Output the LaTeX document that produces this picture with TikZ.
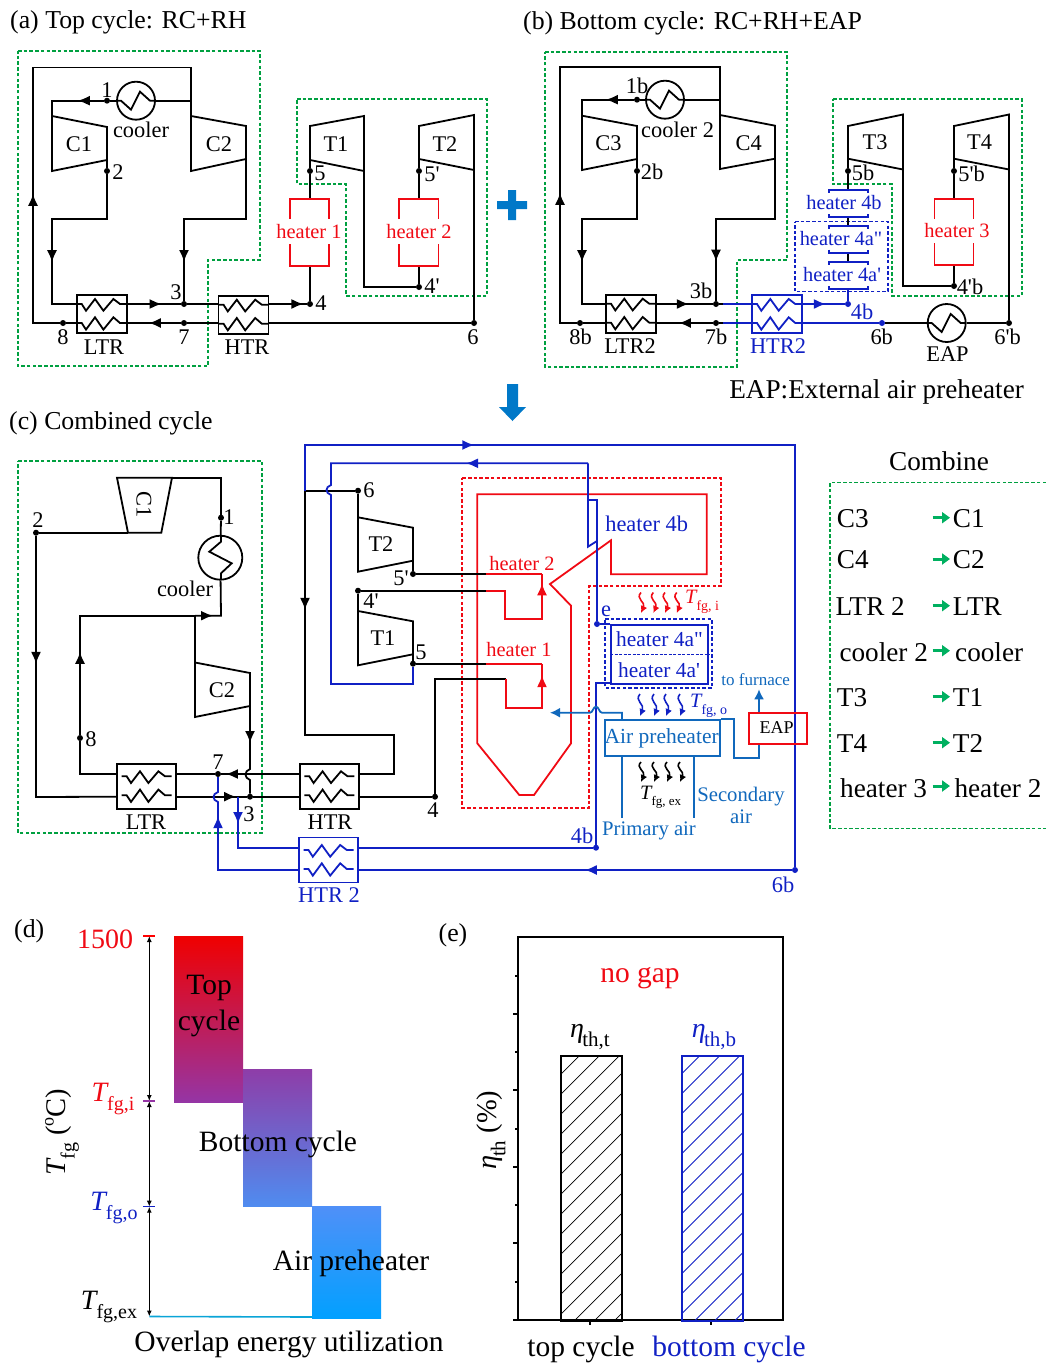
\documentclass[tikz,border=0pt]{standalone}
\usepackage{fontspec}
\setmainfont{Liberation Serif}[Ligatures=TeXOff]
\usetikzlibrary{arrows.meta, decorations.markings}

\definecolor{zonegreen}{HTML}{00A040}
\definecolor{combgreen}{HTML}{00B060}
\definecolor{heatred}{HTML}{F00A14}
\definecolor{loopblue}{HTML}{1020C4}
\definecolor{airblue}{HTML}{1068BC}
\definecolor{signblue}{HTML}{0078C8}
\definecolor{topa}{HTML}{F00000}
\definecolor{topb}{HTML}{C4055A}
\definecolor{topc}{HTML}{9535A5}
\definecolor{bota}{HTML}{8E3DA8}
\definecolor{botb}{HTML}{4F8CF0}
\definecolor{aira}{HTML}{4F90F8}
\definecolor{airb}{HTML}{02A0FF}

\newcommand{\symsub}[3]{\textit{#1}\kern-.06em\raisebox{-.32em}{\fontsize{#3}{#3}\selectfont #2}}

\begin{document}
\begin{tikzpicture}[
  x=1pt, y=-1pt,
  pipe/.style={line width=1.8pt, color=black, line join=miter},
  bluepipe/.style={pipe, color=loopblue},
  redpipe/.style={pipe, color=heatred},
  airpipe/.style={pipe, color=airblue},
  tipat/.style={postaction={decorate, decoration={markings,
      mark=at position #1 with {\arrow{Latex[length=12pt,width=10pt]}}}}},
  zone/.style={draw=#1, line width=1.7pt, dash pattern=on 3.5pt off 2.2pt},
  dotn/.style={circle, fill=#1, inner sep=0, minimum size=6pt},
  dotn/.default=black,
  lab/.style={font=\fontsize{22.4}{22.4}\selectfont, inner sep=0},
  labs/.style={font=\fontsize{20.4}{20.4}\selectfont, inner sep=0},
  labl/.style={font=\fontsize{25.8}{26}\selectfont, inner sep=0, yshift=-2pt},
  labt/.style={font=\fontsize{27.2}{27.2}\selectfont, inner sep=0, yshift=-1pt},
  labx/.style={font=\fontsize{29.5}{29.5}\selectfont, inner sep=0, yshift=-3pt},
  hxbox/.style 2 args={draw=#2, line width=1.8pt, inner sep=0,
    minimum width=#1*50pt, minimum height=#1*38pt,
    path picture={\draw[#2, line width=1.8pt, shift={(path picture bounding box.center)}, scale=#1]
      (-25,-10) -- (-20,-10) -- (-15.7,-3.3) -- (-6.7,-15) -- (1.7,-3.3) -- (11.7,-15) -- (18.3,-10) -- (25,-10)
      (-25,9) -- (-20,9) -- (-15.7,15.6) -- (-6.7,3.3) -- (1.7,15.6) -- (11.7,3.3) -- (18.3,9) -- (25,9);}},
  coolerh/.style={draw, circle, line width=1.8pt, inner sep=0, minimum size=38pt,
    path picture={\draw[line width=1.8pt, shift={(path picture bounding box.center)}]
      (-19,0) -- (-15,0) -- (-5,9) -- (4,-9) -- (14,0) -- (19,0);}},
  coolerv/.style={draw, circle, line width=1.8pt, inner sep=0, minimum size=44pt,
    path picture={\draw[line width=1.8pt, shift={(path picture bounding box.center)}]
      (0.7,-22) -- (0.7,-16) -- (-11,-6) -- (11.4,5.6) -- (0.7,15.6) -- (0.7,22);}},
  barbox/.style={draw=#1, line width=1.8pt, inner sep=0, anchor=north west,
    minimum width=61pt, minimum height=265pt,
    path picture={\foreach \yy in {0,...,15}
      \draw[#1, line width=.8pt, shift={(path picture bounding box.center)}]
        (-30.5,-114.5+20*\yy) -- (39.5,-184.5+20*\yy);}},
  combarrow/.style={color=combgreen, line width=3pt, -{Triangle[length=8pt,width=11pt]}},
  wavytip/.style={line width=1.6pt, -{Latex[length=7pt,width=7pt]}},
  spanarrow/.style={line width=1.3pt, {Latex[length=6pt,width=5pt]}-{Latex[length=6pt,width=5pt]}}
]
  \useasboundingbox (0,0) rectangle (1046,1363);

  % (a) top cycle
  \node[labl, anchor=west] (tita) at (10,20) {(a) Top cycle: RC+RH};
  \draw[zone=zonegreen] (18,51) -- (260,51) -- (260,260) -- (208,260) -- (208,366) -- (18,366) -- cycle;
  \draw[zone=zonegreen] (297,99) -- (487,99) -- (487,296) -- (346,296) -- (346,184) -- (297,184) -- cycle;

  \draw[pipe] (52,116) coordinate (c1a) -- (107,127) -- (107,160) coordinate (c1b) -- (52,171) -- cycle;
  \draw[pipe] (191,116) coordinate (c2a) -- (246,126) -- (246,159) coordinate (c2b) -- (191,171) -- cycle;
  \draw[pipe] (310,126) coordinate (t1a) -- (364,116) -- (364,171) coordinate (t1b) -- (310,160) coordinate (t1c) -- cycle;
  \draw[pipe] (419,126) coordinate (t2a) -- (474,115) -- (474,170) coordinate (t2b) -- (419,159) coordinate (t2c) -- cycle;
  \node[lab] (lc1) at (79,144) {C1};
  \node[lab] (lc2) at (219,144) {C2};
  \node[lab] (lt1) at (336,144) {T1};
  \node[lab] (lt2) at (445,144) {T2};

  \node[coolerh] (coola) at (136,100.7) {};
  \node[hxbox={1}{black}] (ltra) at (101.7,314) {};
  \node[hxbox={1}{black}] (htra) at (243.5,314.7) {};
  \node[dotn] (a1) at (107,100.7) {};
  \node[dotn] (a2) at (107,171) {};
  \node[dotn] (a3) at (184,304) {};
  \node[dotn] (a4) at (310,304) {};
  \node[dotn] (a5) at (310,171) {};
  \node[dotn] (a4p) at (419,287) {};
  \node[dotn] (a5p) at (419,171) {};
  \node[dotn] (a6) at (474,323) {};
  \node[dotn] (a7) at (184,323) {};
  \node[dotn] (a8) at (63,323) {};
  \coordinate (ah1a) at (290,199);
  \coordinate (ah1b) at (310,199);
  \coordinate (ah1c) at (310,266);
  \coordinate (ah2b) at (419,199);
  \coordinate (ah2c) at (419,266);

  \draw[pipe] (c2a) -- (191,100.7) -- (coola);
  \draw[pipe] (coola) -- (a1);
  \draw[pipe, tipat=26pt] (a1) -- (52,100.7) -- (c1a);
  \draw[pipe, tipat=156pt] (a8) -- (33,323) -- (33,67.5) -- (191,67.5) -- (c2a);
  \draw[pipe] (a8) -- (ltra.west |- a8);
  \draw[pipe, tipat=143pt] (a2) -- (107,219) -- (52,219) -- (52,304) -- (ltra.west |- a3);
  \draw[pipe] (c1b) -- (a2);
  \draw[pipe, tipat=34pt] (ltra.east |- a3) -- (a3);
  \draw[pipe, tipat=165pt] (c2b) -- (246,219) -- (184,219) -- (a3);
  \draw[pipe] (a3) -- (htra.west |- a3);
  \draw[pipe, tipat=34pt] (htra.east |- a3) -- (a4);
  \draw[pipe] (a4) -- (ah1c);
  \draw[pipe] (t1c) -- (a5) -- (ah1b);
  \draw[pipe] (t1b) -- (364,287) -- (a4p);
  \draw[pipe] (a4p) -- (ah2c);
  \draw[pipe] (t2c) -- (a5p) -- (ah2b);
  \draw[pipe] (t2b) -- (a6);
  \draw[pipe] (a6) -- (htra.east |- a6);
  \draw[pipe] (htra.west |- a6) -- (a7);
  \draw[pipe, tipat=32pt] (a7) -- (ltra.east |- a7);

  \draw[redpipe] (290,219) -- (ah1a) -- (329,199) -- (329,219);
  \draw[redpipe] (290,244) -- (290,266) -- (329,266) -- (329,244);
  \draw[redpipe] (399,219) -- (399,199) -- (438.5,199) -- (438.5,219);
  \draw[redpipe] (399,244) -- (399,266) -- (438.5,266) -- (438.5,244);
  \node[labs, text=heatred] (lh1) at (309,232) {heater 1};
  \node[labs, text=heatred] (lh2) at (419,232) {heater 2};
  \node[lab] (n1) at (107,90) {1};
  \node[lab] (n2) at (118,172) {2};
  \node[lab] (n3) at (176,292) {3};
  \node[lab] (n4) at (321,303) {4};
  \node[lab] (n5) at (320,173) {5};
  \node[lab] (n4p) at (432,286) {4'};
  \node[lab] (n5p) at (432,174) {5'};
  \node[lab] (n6) at (473,337) {6};
  \node[lab] (n7) at (184,337) {7};
  \node[lab] (n8) at (63,337) {8};
  \node[lab] (lcool) at (141,130) {cooler};
  \node[lab] (lltr) at (104,347) {LTR};
  \node[lab] (lhtr) at (247,347) {HTR};

  % plus and down sign
  \fill[signblue] (497,201) rectangle (527,209) (508,190) rectangle (516,220);
  \fill[signblue] (507,384) -- (518,384) -- (518,407) -- (526,407) -- (512.5,421) -- (499,407) -- (507,407) -- cycle;

  % (b) bottom cycle
  \node[labl, anchor=west] (titb) at (523,21) {(b) Bottom cycle: RC+RH+EAP};
  \draw[zone=zonegreen] (545,52) -- (787,52) -- (787,260) -- (737,260) -- (737,366.7) -- (545,366.7) -- cycle;
  \draw[zone=zonegreen] (833,99) -- (1022,99) -- (1022,295.7) -- (892,295.7) -- (892,184.3) -- (833,184.3) -- cycle;
  \draw[zone=loopblue, line width=1.4pt] (795,221.7) -- (888,221.7) -- (888,291.7) -- (795,291.7) -- cycle;

  \draw[pipe] (582,115.7) coordinate (c3a) -- (637,126) -- (637,159) coordinate (c3b) -- (582,170) -- cycle;
  \draw[pipe] (720,115) coordinate (c4a) -- (775,125.7) -- (775,158.7) coordinate (c4b) -- (720,169) -- cycle;
  \draw[pipe] (848,126) coordinate (t3a) -- (903,114.5) -- (903,169.5) coordinate (t3b) -- (848,158.7) coordinate (t3c) -- cycle;
  \draw[pipe] (954,126) coordinate (t4a) -- (1009,114.5) -- (1009,169.5) coordinate (t4b) -- (954,158.7) coordinate (t4c) -- cycle;
  \node[lab] (lc3) at (608.5,143) {C3};
  \node[lab] (lc4) at (748.7,143) {C4};
  \node[lab] (lt3) at (875,142) {T3};
  \node[lab] (lt4) at (979.6,142) {T4};

  \node[coolerh] (coolb) at (665,99.7) {};
  \node[coolerh] (eapb) at (946.7,323) {};
  \node[hxbox={1}{black}] (ltrb) at (631,313.7) {};
  \node[hxbox={1}{loopblue}] (htrb) at (777,314) {};
  \node[dotn] (b1) at (637,99.7) {};
  \node[dotn] (b2) at (637,171) {};
  \node[dotn] (b3) at (716,304) {};
  \node[dotn=loopblue] (b4) at (848,304) {};
  \node[dotn] (b5) at (848,171) {};
  \node[dotn] (b4p) at (954,286) {};
  \node[dotn] (b5p) at (954,171) {};
  \node[dotn] (b6p) at (1009,323) {};
  \node[dotn=loopblue] (b6) at (882,323) {};
  \node[dotn] (b7) at (716,323) {};
  \node[dotn] (b8) at (580,323) {};

  \draw[pipe] (c4a) -- (720,99.7) -- (coolb);
  \draw[pipe] (coolb) -- (b1);
  \draw[pipe, tipat=28pt] (b1) -- (582,99.7) -- (c3a);
  \draw[pipe, tipat=147pt] (b8) -- (560,323) -- (560,67) -- (720,67) -- (c4a);
  \draw[pipe] (b8) -- (ltrb.west |- b8);
  \draw[pipe] (c3b) -- (b2);
  \draw[pipe, tipat=143pt] (b2) -- (637,218.7) -- (582,218.7) -- (582,304) -- (ltrb.west |- b3);
  \draw[pipe, tipat=32pt] (ltrb.east |- b3) -- (b3);
  \draw[pipe, tipat=162pt] (c4b) -- (775,218.7) -- (716,218.7) -- (b3);
  \draw[pipe] (b3) -- (723,304);
  \draw[bluepipe] (723,304) -- (htrb.west |- b3);
  \draw[bluepipe, tipat=23pt] (htrb.east |- b3) -- (b4);
  \draw[pipe] (t3c) -- (b5) -- (848,190);
  \draw[pipe] (848,217) -- (848,226);
  \draw[pipe] (848,252.7) -- (848,261.7);
  \draw[bluepipe] (848,289) -- (b4);
  \draw[pipe] (t3b) -- (903,286) -- (b4p);
  \draw[pipe] (b4p) -- (954,265);
  \draw[pipe] (t4c) -- (b5p) -- (954,199);
  \draw[pipe] (t4b) -- (b6p);
  \draw[pipe] (b6p) -- (eapb);
  \draw[pipe] (eapb) -- (b6);
  \draw[bluepipe] (b6) -- (htrb.east |- b6);
  \draw[bluepipe] (htrb.west |- b6) -- (723,323);
  \draw[pipe] (723,323) -- (b7);
  \draw[pipe, tipat=34pt] (b7) -- (ltrb.east |- b7);

  \draw[bluepipe] (829,192.7) -- (829,190) -- (868,190) -- (868,192.7);
  \draw[bluepipe] (829,214) -- (829,217) -- (868,217) -- (868,214);
  \draw[bluepipe] (829,229) -- (829,226) -- (868,226) -- (868,229);
  \draw[bluepipe] (829,249.7) -- (829,252.7) -- (868,252.7) -- (868,249.7);
  \draw[bluepipe] (829,264.7) -- (829,261.7) -- (868,261.7) -- (868,264.7);
  \draw[bluepipe] (829,286) -- (829,289) -- (868,289) -- (868,286);
  \draw[redpipe] (934.4,219) -- (934.4,199) -- (973.4,199) -- (973.4,219);
  \draw[redpipe] (934.4,243) -- (934.4,265) -- (973.4,265) -- (973.4,243);
  \node[labs, text=loopblue] (lh4b) at (844,203) {heater 4b};
  \node[labs, text=loopblue] (lh4an) at (841,239) {heater 4a"};
  \node[labs, text=loopblue] (lh4am) at (842,275) {heater 4a'};
  \node[labs, text=heatred] (lh3) at (957,231) {heater 3};
  \node[lab] (m1) at (637,86) {1b};
  \node[lab] (m2) at (652,172) {2b};
  \node[lab] (m3) at (701,291) {3b};
  \node[lab, text=loopblue] (m4) at (862,312) {4b};
  \node[lab] (m5) at (863,173) {5b};
  \node[lab] (m4p) at (970,287) {4'b};
  \node[lab] (m5p) at (971.7,174) {5'b};
  \node[lab] (m6p) at (1007.6,337) {6'b};
  \node[lab] (m6) at (881.7,337) {6b};
  \node[lab] (m7) at (716,337) {7b};
  \node[lab] (m8) at (580.5,337) {8b};
  \node[lab] (lcoolb) at (677.6,130) {cooler 2};
  \node[lab] (lltrb) at (630,346) {LTR2};
  \node[lab, text=loopblue] (lhtrb) at (778,346) {HTR2};
  \node[lab] (leap) at (947.5,354) {EAP};
  \node[labt, yshift=-1pt] (leapnote) at (876.6,390) {EAP:External air preheater};

  % (c) combined cycle
  \node[labl, anchor=west] (titc) at (9,421) {(c) Combined cycle};
  \draw[zone=zonegreen] (18,460.7) -- (262,460.7) -- (262,833) -- (18,833) -- cycle;
  \draw[zone=heatred] (462.3,478.3) -- (720.7,478.3) -- (720.7,585.7) -- (589,585.7) -- (589,807.7) -- (462.3,807.7) -- cycle;
  \draw[redpipe] (477.3,494.3) -- (706.7,494.3) -- (706.7,574.3) -- (611,574.3) -- (611,540.3) -- (550,584) -- (571,605.7) -- (571,743.3) -- (534,795) -- (519.3,795) -- (477.3,743.3) -- cycle;

  \draw[pipe] (117,477.7) coordinate (k1a) -- (172,477.7) coordinate (k1b) -- (161.3,532.7) -- (128,532.7) coordinate (k1c) -- cycle;
  \draw[pipe] (195,662.5) coordinate (k2a) -- (250,673) -- (250,706) coordinate (k2b) -- (195,717) -- cycle;
  \draw[pipe] (358,517.3) coordinate (k3a) -- (413,527.7) -- (413,560.7) coordinate (k3b) -- (358,571.7) -- cycle;
  \draw[pipe] (358,611) coordinate (k4a) -- (413,621.3) -- (413,654.3) coordinate (k4b) -- (358,665.3) -- cycle;
  \node[lab, rotate=-90] (rc1) at (144,505) {C1};
  \node[lab] (rc2) at (222,690) {C2};
  \node[lab] (rt2) at (381,544) {T2};
  \node[lab] (rt1) at (383,638) {T1};

  \node[coolerv] (coolc) at (220.3,557.7) {};
  \node[hxbox={1.18}{black}] (ltrc) at (146.7,786.3) {};
  \node[hxbox={1.18}{black}] (htrc) at (329.3,786.3) {};
  \node[hxbox={1.18}{loopblue}] (htrd) at (328.5,860) {};
  \node[dotn] (c1) at (221,517.7) {};
  \node[dotn] (c2) at (36,532.7) {};
  \node[dotn] (c3) at (250,796.7) {};
  \node[dotn] (c4) at (435,796.7) {};
  \node[dotn] (c5) at (413,663.7) {};
  \node[dotn] (c5p) at (413,574) {};
  \node[dotn] (c4p) at (358,590.7) {};
  \node[dotn] (c6) at (358,490.7) {};
  \node[dotn] (c7) at (218,774) {};
  \node[dotn] (c8) at (80,738) {};
  \node[dotn=loopblue] (c4b) at (596,847.7) {};
  \node[dotn=loopblue] (c6b) at (795,870) {};
  \node[dotn=loopblue] (ce) at (597,624) {};

  \draw[pipe] (k1b) -- (221,477.7) -- (c1);
  \draw[pipe] (c1) -- (coolc);
  \draw[pipe] (k1c) -- (c2);
  \draw[pipe, tipat=128pt] (c2) -- (36,797) -- (ltrc.west |- c3);
  \draw[pipe] (ltrc.west |- c7) -- (80,774) -- (c8);
  \draw[pipe, tipat=83pt] (c8) -- (80,615.7) -- (195,615.7);
  \draw[pipe, tipat=18pt] (195,615.7) -- (221,615.7) -- (coolc);
  \draw[pipe] (195,615.7) -- (k2a);
  \draw[pipe, tipat=37pt] (k2b) -- (250,769) .. controls (244,771) and (244,778) .. (250,780) -- (c3);
  \draw[pipe, tipat=59pt] (ltrc.east |- c3) -- (c3);
  \draw[pipe] (c3) -- (htrc.west |- c3);
  \draw[pipe, tipat=73pt] (htrc.west |- c7) -- (c7);
  \draw[pipe] (c7) -- (ltrc.east |- c7);
  \draw[pipe, tipat=169pt] (c6) -- (305,490.7) -- (305,735) -- (394,735) -- (394,774) -- (htrc.east |- c7);
  \draw[pipe] (c6) -- (k3a);
  \draw[pipe] (k3b) -- (c5p);
  \draw[pipe] (c5p) -- (486,574);
  \draw[pipe] (c4p) -- (486,590.7);
  \draw[pipe] (c4p) -- (358,620);
  \draw[pipe] (k4b) -- (c5);
  \draw[pipe] (c5) -- (486,663.7);
  \draw[pipe] (htrc.east |- c3) -- (c4);
  \draw[pipe] (c4) -- (435,679.3) -- (506,679.3);

  \draw[redpipe] (486,574) -- (542,574);
  \draw[redpipe, tipat=120pt] (486,590.7) -- (505,590.7) -- (505,619) -- (542,619) -- (542,574);
  \draw[redpipe] (486,663.7) -- (542,663.7);
  \draw[redpipe, tipat=97pt] (506,679.3) -- (506,707.7) -- (542,707.7) -- (542,663.7);

  \draw[bluepipe, tipat=215pt] (305,490.7) -- (305,445) -- (795,445) -- (c6b);
  \draw[bluepipe, tipat=207pt] (c6b) -- (htrd.east |- c6b);
  \draw[bluepipe, tipat=134pt] (htrd.west |- c6b) -- (218,870) -- (218,802) .. controls (212,800) and (212,794) .. (218,792) -- (c7);
  \draw[bluepipe, tipat=27pt] (238,797) -- (238,847.7) -- (htrd.west |- c4b);
  \draw[bluepipe] (htrd.east |- c4b) -- (c4b);
  \draw[bluepipe, tipat=122pt] (588,463.3) -- (331,463.3) -- (331,485) .. controls (325,487) and (325,493) .. (331,495) -- (331,684) -- (413,684) -- (c5);
  \draw[bluepipe] (ce) -- (597,541) -- (588,546.7) -- (588,463.3);
  \draw[bluepipe] (588,500) -- (597,500) -- (597,541);
  \draw[bluepipe] (c4b) -- (596,682.7) -- (610,682.7);
  \draw[bluepipe] (ce) -- (610,624);

  \node[draw=loopblue, line width=1.8pt, inner sep=0, anchor=north west, minimum width=97.3pt, minimum height=58.7pt] (h4abox) at (610,624) {};
  \draw[loopblue, line width=1.4pt, dash pattern=on 3pt off 1.5pt] (h4abox.west) -- (h4abox.east);
  \draw[zone=loopblue] (605,618.7) -- (712,618.7) -- (712,688) -- (605,688) -- cycle;
  \node[font=\fontsize{21.4}{21.4}\selectfont, inner sep=0, text=loopblue] (rh4an) at (659.5,639) {heater 4a"};
  \node[font=\fontsize{21.4}{21.4}\selectfont, inner sep=0, text=loopblue] (rh4am) at (659,670.5) {heater 4a'};
  \node[lab, text=loopblue] (rh4b) at (646.7,524) {heater 4b};
  \node[labs, text=heatred] (rh2) at (522,564) {heater 2};
  \node[labs, text=heatred] (rh1) at (519,650) {heater 1};

  \foreach \xx in {641,653.3,665,676.7}
    \draw[wavytip, heatred] (\xx,592.5) .. controls (\xx-6,599) and (\xx+5,602) .. (\xx,613);
  \foreach \xx in {640,654,666,680}
    \draw[wavytip, loopblue] (\xx,694) .. controls (\xx-6,701) and (\xx+5,704) .. (\xx,716);
  \foreach \xx in {641,654,667,680}
    \draw[wavytip, black] (\xx,762) .. controls (\xx-6,768) and (\xx+5,771) .. (\xx,782);
  \node[labs, text=heatred, anchor=west] (rtfi) at (685,602) {\symsub{T}{fg, i}{14}};
  \node[labs, text=loopblue, anchor=west] (rtfo) at (690,706) {\symsub{T}{fg, o}{14}};
  \node[labs, anchor=west] (rtfe) at (640,797) {\symsub{T}{fg, ex}{13}};

  \node[draw=airblue, line width=1.8pt, inner sep=0, anchor=north west, minimum width=115.3pt, minimum height=36pt] (aph) at (604,719.3) {};
  \node[font=\fontsize{21.5}{21.5}\selectfont, inner sep=0, text=airblue] (laph) at (661.7,738) {Air preheater};
  \node[draw=heatred, line width=1.8pt, inner sep=0, anchor=north west, minimum width=58pt, minimum height=31pt] (eapc) at (747.7,712.3) {};
  \node[font=\fontsize{18}{18}\selectfont, inner sep=0] (leapc) at (776.7,728) {EAP};
  \coordinate (furn) at (759,689.3);
  \coordinate (airleft) at (550,712.7);
  \coordinate (prim) at (622,817.7);
  \coordinate (secd) at (694,817.7);
  \draw[airpipe, -{Latex[length=10pt,width=10pt]}] (eapc.north -| furn) -- (furn);
  \draw[airpipe, -{Latex[length=10pt,width=10pt]}] (aph.north -| prim) -- (622,712.7) -- (602,712.7) .. controls (599,712.7) and (599,706.7) .. (596,706.7) .. controls (593,706.7) and (593,712.7) .. (590,712.7) -- (airleft);
  \draw[airpipe] (aph.north east) -- (734,719.3) -- (734,758.3) -- (759,758.3) -- (eapc.south -| furn);
  \draw[airpipe] (aph.south -| prim) -- (prim);
  \draw[airpipe] (aph.south -| secd) -- (secd);
  \node[font=\fontsize{17}{17}\selectfont, inner sep=0, text=airblue] (lfurn) at (755.7,680) {to furnace};
  \node[font=\fontsize{20.7}{22}\selectfont, inner sep=0, text=airblue, align=center] (lsec) at (741,805) {Secondary\\air};
  \node[font=\fontsize{20.7}{22}\selectfont, inner sep=0, text=airblue] (lprim) at (649,831) {Primary air};
  \node[lab] (p1) at (229,517) {1};
  \node[lab] (p2) at (38,520) {2};
  \node[lab] (p3) at (249,814) {3};
  \node[lab] (p4) at (433,810) {4};
  \node[lab] (p5) at (421,652) {5};
  \node[lab] (p5p) at (401,578) {5'};
  \node[lab] (p4p) at (371,601) {4'};
  \node[lab] (p6) at (369,490) {6};
  \node[lab] (p7) at (218,762) {7};
  \node[lab] (p8) at (91,739) {8};
  \node[lab, text=loopblue] (p4b) at (582,836) {4b};
  \node[lab, text=loopblue] (p6b) at (783,885) {6b};
  \node[lab, text=loopblue] (pe) at (606,611) {e};
  \node[lab] (lcoolc) at (185,589) {cooler};
  \node[lab] (lltrc) at (146,822) {LTR};
  \node[lab] (lhtrc) at (330,822) {HTR};
  \node[lab, text=loopblue] (lhtrd) at (329,895) {HTR 2};

  % combine table
  \node[labt] (lcomb) at (939,460) {Combine};
  \draw[zone=zonegreen] (1046,482.5) -- (830,482.5) -- (830,828.5) -- (1046,828.5);
  \foreach \yy/\nm in {517.7/a,559/b,605.7/c,650.7/d,696.7/e,742.7/f,786/g}{
    \coordinate (ca\nm) at (932.7,\yy);
    \coordinate (cb\nm) at (950,\yy);
    \draw[combarrow] (ca\nm) -- (cb\nm);
  }
  \node[labt, anchor=west] (la) at (836.7,517.7) {C3};
  \node[labt, anchor=west] (ra) at (952.7,517.7) {C1};
  \node[labt, anchor=west] (lb) at (836.7,559) {C4};
  \node[labt, anchor=west] (rb) at (952.7,559) {C2};
  \node[labt, anchor=west] (lc) at (835.3,605.7) {LTR 2};
  \node[labt, anchor=west] (rc) at (952.7,605.7) {LTR};
  \node[labt, anchor=west] (ld) at (839.3,651) {cooler 2};
  \node[labt, anchor=west] (rd) at (955,651) {cooler};
  \node[labt, anchor=west] (le) at (836.7,696.7) {T3};
  \node[labt, anchor=west] (re) at (952.7,696.7) {T1};
  \node[labt, anchor=west] (lf) at (836.7,742.7) {T4};
  \node[labt, anchor=west] (rf) at (952.7,742.7) {T2};
  \node[labt, anchor=west] (lg) at (840,787) {heater 3};
  \node[labt, anchor=west] (rg) at (954.3,787) {heater 2};

  % (d) overlap
  \node[labl, anchor=west] (titd) at (14,929) {(d)};
  \shade[top color=topa, middle color=topb, bottom color=topc] (174,936) rectangle (243,1102.3);
  \shade[top color=bota, bottom color=botb] (243,1069) rectangle (312,1206.7);
  \shade[top color=aira, middle color=airb, bottom color=airb] (312,1206.7) rectangle (381,1318);
  \coordinate (ta) at (149.3,936);
  \coordinate (tb) at (149.3,1101);
  \coordinate (tc) at (149.3,1206.7);
  \coordinate (td) at (149.3,1316.5);
  \coordinate (te) at (312,1317);
  \draw[spanarrow] (ta) -- (tb);
  \draw[spanarrow] (tb) -- (tc);
  \draw[spanarrow] (tc) -- (td);
  \draw[red, line width=1.4pt] ([xshift=-6pt]ta) -- ([xshift=6pt]ta);
  \draw[topc, line width=1.4pt] ([xshift=-6pt]tb) -- ([xshift=6pt]tb);
  \draw[loopblue, line width=1.4pt] ([xshift=-6pt]tc) -- ([xshift=6pt]tc);
  \draw[airblue!60!cyan, line width=1.6pt] (td) -- (te);
  \node[font=\fontsize{28}{28}\selectfont, inner sep=0, text=heatred] (l1500) at (105,939) {1500};
  \node[font=\fontsize{28}{28}\selectfont, inner sep=0, text=heatred] (ltfi) at (113,1099) {\symsub{T}{fg,i}{20}};
  \node[font=\fontsize{28}{28}\selectfont, inner sep=0, text=loopblue] (ltfo) at (114,1208) {\symsub{T}{fg,o}{20}};
  \node[font=\fontsize{28}{28}\selectfont, inner sep=0] (ltfe) at (109,1307) {\symsub{T}{fg,ex}{20}};
  \node[font=\fontsize{28.5}{28.5}\selectfont, inner sep=0, rotate=90] (ltfg) at (62,1132) {\symsub{T}{fg}{20} (\raisebox{.42em}{\fontsize{18}{18}\selectfont o}C)};
  \node[labx] (ltop) at (209,985) {Top};
  \node[labx] (lcyc) at (209,1020) {cycle};
  \node[labx] (lbot) at (278,1141) {Bottom cycle};
  \node[labx] (lair) at (351,1260) {Air preheater};
  \node[labx] (lover) at (289,1341) {Overlap energy utilization};

  % (e) efficiency
  \node[labl] (tite) at (453,933) {(e)};
  \draw[pipe] (518,936.7) rectangle (782.7,1319.7);
  \foreach \yy in {1014,1090,1167,1242.7,1319.7}
    \draw[pipe] (518,\yy) -- (513,\yy);
  \foreach \yy in {975.7,1052.3,1129,1205,1281.7}
    \draw[pipe] (518,\yy) -- (515,\yy);
  \foreach \xx in {590,710.7}
    \draw[pipe] (\xx,1319.7) -- (\xx,1325);
  \node[barbox=black] (bart) at (560.3,1055) {};
  \node[barbox=loopblue] (barb) at (680.7,1055) {};
  \node[labx, text=heatred] (lgap) at (640,975) {no gap};
  \node[font=\fontsize{28}{28}\selectfont, inner sep=0] (letat) at (590,1037) {\symsub{η}{th,t}{21}};
  \node[font=\fontsize{28}{28}\selectfont, inner sep=0, text=loopblue] (letab) at (714,1037) {\symsub{η}{th,b}{21}};
  \node[font=\fontsize{28.5}{28.5}\selectfont, inner sep=0, rotate=90] (letay) at (491,1130) {\symsub{η}{th}{21} (\%)};
  \node[labx] (ltopc) at (581,1346) {top cycle};
  \node[labx, text=loopblue] (lbotc) at (729,1346) {bottom cycle};
\end{tikzpicture}
\end{document}
